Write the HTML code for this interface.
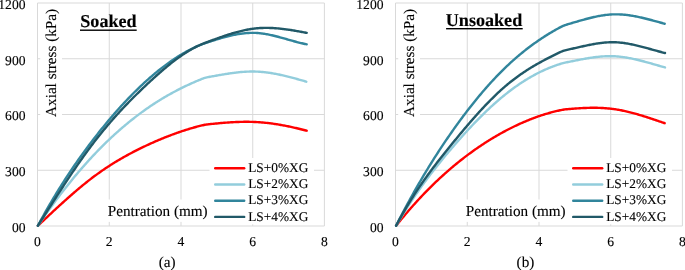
<!DOCTYPE html>
<html><head><meta charset="utf-8"><style>
html,body{margin:0;padding:0;background:#fff;}
body{width:685px;height:270px;overflow:hidden;}
svg{display:block;}
text{font-family:"Liberation Serif", serif;fill:#000;stroke:#000;stroke-width:0.12px;text-rendering:geometricPrecision;}
.tk{font-size:13.6px;}
.lg{font-size:13.33px;}
.ti{font-size:15.2px;}
.hd{font-size:18.1px;font-weight:bold;stroke-width:0.15px;}
</style></head><body>
<svg width="685" height="270" viewBox="0 0 685 270" style="will-change:transform">
<line x1="37.5" y1="3.0" x2="324.4" y2="3.0" stroke="#D9D9D9" stroke-width="1"/>
<line x1="37.5" y1="58.75" x2="324.4" y2="58.75" stroke="#D9D9D9" stroke-width="1"/>
<line x1="37.5" y1="114.5" x2="324.4" y2="114.5" stroke="#D9D9D9" stroke-width="1"/>
<line x1="37.5" y1="170.25" x2="324.4" y2="170.25" stroke="#D9D9D9" stroke-width="1"/>
<line x1="37.5" y1="226.0" x2="324.4" y2="226.0" stroke="#D9D9D9" stroke-width="1"/>
<line x1="37.5" y1="3.0" x2="37.5" y2="226.0" stroke="#D9D9D9" stroke-width="1"/>
<line x1="109.25" y1="3.0" x2="109.25" y2="226.0" stroke="#D9D9D9" stroke-width="1"/>
<line x1="181.0" y1="3.0" x2="181.0" y2="226.0" stroke="#D9D9D9" stroke-width="1"/>
<line x1="252.75" y1="3.0" x2="252.75" y2="226.0" stroke="#D9D9D9" stroke-width="1"/>
<line x1="324.4" y1="3.0" x2="324.4" y2="226.0" stroke="#D9D9D9" stroke-width="1"/>
<text x="25.5" y="8.8" text-anchor="end" class="tk">1200</text>
<text x="25.5" y="64.55" text-anchor="end" class="tk">900</text>
<text x="25.5" y="120.3" text-anchor="end" class="tk">600</text>
<text x="25.5" y="176.05" text-anchor="end" class="tk">300</text>
<text x="25.5" y="231.8" text-anchor="end" class="tk">00</text>
<text x="37.5" y="246.4" text-anchor="middle" class="tk">0</text>
<text x="109.25" y="246.4" text-anchor="middle" class="tk">2</text>
<text x="181.0" y="246.4" text-anchor="middle" class="tk">4</text>
<text x="252.75" y="246.4" text-anchor="middle" class="tk">6</text>
<text x="324.4" y="246.4" text-anchor="middle" class="tk">8</text>
<path d="M37.90,225.70 L38.90,224.76 L39.90,223.82 L40.90,222.88 L41.90,221.95 L42.90,221.01 L43.90,220.07 L44.90,219.13 L45.90,218.19 L46.90,217.26 L47.90,216.32 L48.90,215.39 L49.90,214.45 L50.90,213.52 L51.90,212.59 L52.90,211.66 L53.90,210.74 L54.90,209.81 L55.90,208.89 L56.90,207.97 L57.90,207.05 L58.90,206.13 L59.90,205.22 L60.90,204.30 L61.90,203.40 L62.90,202.49 L63.90,201.59 L64.90,200.69 L65.90,199.79 L66.90,198.90 L67.90,198.01 L68.90,197.12 L69.90,196.24 L70.90,195.36 L71.90,194.49 L72.90,193.62 L73.90,192.75 L74.90,191.89 L75.90,191.04 L76.90,190.19 L77.90,189.34 L78.90,188.50 L79.90,187.66 L80.90,186.83 L81.90,186.01 L82.90,185.19 L83.90,184.37 L84.90,183.56 L85.90,182.76 L86.90,181.97 L87.90,181.18 L88.90,180.39 L89.90,179.61 L90.90,178.84 L91.90,178.08 L92.90,177.32 L93.90,176.57 L94.90,175.83 L95.90,175.10 L96.90,174.37 L97.90,173.64 L98.90,172.93 L99.90,172.22 L100.90,171.52 L101.90,170.82 L102.90,170.13 L103.90,169.45 L104.90,168.78 L105.90,168.11 L106.90,167.44 L107.90,166.79 L108.90,166.14 L109.90,165.49 L110.90,164.85 L111.90,164.22 L112.90,163.59 L113.90,162.97 L114.90,162.35 L115.90,161.74 L116.90,161.14 L117.90,160.54 L118.90,159.95 L119.90,159.36 L120.90,158.77 L121.90,158.20 L122.90,157.62 L123.90,157.06 L124.90,156.50 L125.90,155.94 L126.90,155.39 L127.90,154.84 L128.90,154.30 L129.90,153.76 L130.90,153.22 L131.90,152.70 L132.90,152.17 L133.90,151.65 L134.90,151.14 L135.90,150.63 L136.90,150.12 L137.90,149.62 L138.90,149.12 L139.90,148.62 L140.90,148.13 L141.90,147.65 L142.90,147.17 L143.90,146.69 L144.90,146.21 L145.90,145.74 L146.90,145.27 L147.90,144.81 L148.90,144.35 L149.90,143.89 L150.90,143.44 L151.90,142.99 L152.90,142.54 L153.90,142.10 L154.90,141.66 L155.90,141.22 L156.90,140.79 L157.90,140.36 L158.90,139.94 L159.90,139.52 L160.90,139.10 L161.90,138.68 L162.90,138.27 L163.90,137.87 L164.90,137.46 L165.90,137.07 L166.90,136.67 L167.90,136.28 L168.90,135.89 L169.90,135.51 L170.90,135.13 L171.90,134.75 L172.90,134.38 L173.90,134.01 L174.90,133.65 L175.90,133.29 L176.90,132.93 L177.90,132.58 L178.90,132.24 L179.90,131.89 L180.90,131.55 L181.90,131.22 L182.90,130.89 L183.90,130.56 L184.90,130.24 L185.90,129.92 L186.90,129.61 L187.90,129.30 L188.90,128.99 L189.90,128.69 L190.90,128.39 L191.90,128.10 L192.90,127.81 L193.90,127.53 L194.90,127.25 L195.90,126.98 L196.90,126.71 L197.90,126.45 L198.90,126.19 L199.90,125.94 L200.90,125.68 L201.90,125.44 L202.90,125.21 L203.90,124.99 L204.90,124.79 L205.90,124.61 L206.90,124.47 L207.90,124.34 L208.90,124.23 L209.90,124.12 L210.90,124.02 L211.90,123.92 L212.90,123.82 L213.90,123.72 L214.90,123.62 L215.90,123.52 L216.90,123.43 L217.90,123.34 L218.90,123.24 L219.90,123.15 L220.90,123.07 L221.90,122.98 L222.90,122.90 L223.90,122.81 L224.90,122.73 L225.90,122.66 L226.90,122.58 L227.90,122.51 L228.90,122.44 L229.90,122.38 L230.90,122.31 L231.90,122.25 L232.90,122.20 L233.90,122.14 L234.90,122.09 L235.90,122.05 L236.90,122.00 L237.90,121.97 L238.90,121.93 L239.90,121.90 L240.90,121.87 L241.90,121.85 L242.90,121.83 L243.90,121.82 L244.90,121.81 L245.90,121.80 L246.90,121.80 L247.90,121.81 L248.90,121.82 L249.90,121.83 L250.90,121.85 L251.90,121.88 L252.90,121.91 L253.90,121.94 L254.90,121.98 L255.90,122.03 L256.90,122.08 L257.90,122.14 L258.90,122.21 L259.90,122.28 L260.90,122.35 L261.90,122.44 L262.90,122.52 L263.90,122.61 L264.90,122.71 L265.90,122.82 L266.90,122.92 L267.90,123.04 L268.90,123.16 L269.90,123.28 L270.90,123.41 L271.90,123.54 L272.90,123.68 L273.90,123.82 L274.90,123.97 L275.90,124.12 L276.90,124.28 L277.90,124.44 L278.90,124.61 L279.90,124.78 L280.90,124.95 L281.90,125.13 L282.90,125.31 L283.90,125.50 L284.90,125.69 L285.90,125.88 L286.90,126.08 L287.90,126.28 L288.90,126.49 L289.90,126.70 L290.90,126.91 L291.90,127.13 L292.90,127.35 L293.90,127.57 L294.90,127.80 L295.90,128.03 L296.90,128.26 L297.90,128.50 L298.90,128.74 L299.90,128.98 L300.90,129.23 L301.90,129.48 L302.90,129.73 L303.90,129.99 L304.90,130.24 L305.90,130.50 L306.70,130.71" fill="none" stroke="#FF0000" stroke-width="2.4" stroke-linejoin="round" stroke-linecap="round"/>
<path d="M37.90,225.70 L38.90,224.23 L39.90,222.77 L40.90,221.32 L41.90,219.87 L42.90,218.43 L43.90,217.00 L44.90,215.58 L45.90,214.16 L46.90,212.76 L47.90,211.36 L48.90,209.96 L49.90,208.58 L50.90,207.20 L51.90,205.83 L52.90,204.46 L53.90,203.10 L54.90,201.76 L55.90,200.41 L56.90,199.08 L57.90,197.75 L58.90,196.43 L59.90,195.12 L60.90,193.82 L61.90,192.52 L62.90,191.23 L63.90,189.95 L64.90,188.67 L65.90,187.40 L66.90,186.14 L67.90,184.89 L68.90,183.64 L69.90,182.40 L70.90,181.17 L71.90,179.95 L72.90,178.73 L73.90,177.52 L74.90,176.32 L75.90,175.13 L76.90,173.94 L77.90,172.76 L78.90,171.59 L79.90,170.42 L80.90,169.27 L81.90,168.12 L82.90,166.97 L83.90,165.84 L84.90,164.71 L85.90,163.59 L86.90,162.47 L87.90,161.37 L88.90,160.27 L89.90,159.18 L90.90,158.09 L91.90,157.01 L92.90,155.94 L93.90,154.88 L94.90,153.83 L95.90,152.78 L96.90,151.74 L97.90,150.70 L98.90,149.68 L99.90,148.66 L100.90,147.65 L101.90,146.64 L102.90,145.64 L103.90,144.65 L104.90,143.67 L105.90,142.69 L106.90,141.73 L107.90,140.76 L108.90,139.81 L109.90,138.86 L110.90,137.92 L111.90,136.99 L112.90,136.06 L113.90,135.14 L114.90,134.23 L115.90,133.32 L116.90,132.42 L117.90,131.53 L118.90,130.64 L119.90,129.76 L120.90,128.89 L121.90,128.03 L122.90,127.17 L123.90,126.32 L124.90,125.47 L125.90,124.64 L126.90,123.81 L127.90,122.98 L128.90,122.17 L129.90,121.35 L130.90,120.55 L131.90,119.75 L132.90,118.96 L133.90,118.18 L134.90,117.40 L135.90,116.63 L136.90,115.87 L137.90,115.11 L138.90,114.36 L139.90,113.61 L140.90,112.88 L141.90,112.14 L142.90,111.42 L143.90,110.70 L144.90,109.99 L145.90,109.28 L146.90,108.58 L147.90,107.89 L148.90,107.21 L149.90,106.53 L150.90,105.85 L151.90,105.18 L152.90,104.52 L153.90,103.87 L154.90,103.22 L155.90,102.58 L156.90,101.94 L157.90,101.31 L158.90,100.69 L159.90,100.07 L160.90,99.46 L161.90,98.85 L162.90,98.25 L163.90,97.65 L164.90,97.06 L165.90,96.48 L166.90,95.90 L167.90,95.33 L168.90,94.76 L169.90,94.20 L170.90,93.65 L171.90,93.10 L172.90,92.55 L173.90,92.02 L174.90,91.48 L175.90,90.95 L176.90,90.43 L177.90,89.91 L178.90,89.40 L179.90,88.89 L180.90,88.39 L181.90,87.89 L182.90,87.40 L183.90,86.91 L184.90,86.43 L185.90,85.95 L186.90,85.48 L187.90,85.02 L188.90,84.55 L189.90,84.09 L190.90,83.64 L191.90,83.19 L192.90,82.75 L193.90,82.31 L194.90,81.88 L195.90,81.45 L196.90,81.02 L197.90,80.61 L198.90,80.19 L199.90,79.78 L200.90,79.37 L201.90,78.97 L202.90,78.59 L203.90,78.22 L204.90,77.89 L205.90,77.61 L206.90,77.36 L207.90,77.15 L208.90,76.95 L209.90,76.77 L210.90,76.59 L211.90,76.42 L212.90,76.24 L213.90,76.06 L214.90,75.88 L215.90,75.70 L216.90,75.53 L217.90,75.35 L218.90,75.18 L219.90,75.00 L220.90,74.83 L221.90,74.66 L222.90,74.49 L223.90,74.33 L224.90,74.16 L225.90,74.00 L226.90,73.84 L227.90,73.69 L228.90,73.54 L229.90,73.39 L230.90,73.25 L231.90,73.11 L232.90,72.97 L233.90,72.84 L234.90,72.71 L235.90,72.59 L236.90,72.48 L237.90,72.37 L238.90,72.26 L239.90,72.16 L240.90,72.07 L241.90,71.99 L242.90,71.91 L243.90,71.83 L244.90,71.77 L245.90,71.71 L246.90,71.66 L247.90,71.62 L248.90,71.58 L249.90,71.55 L250.90,71.54 L251.90,71.53 L252.90,71.52 L253.90,71.53 L254.90,71.55 L255.90,71.58 L256.90,71.62 L257.90,71.66 L258.90,71.72 L259.90,71.78 L260.90,71.86 L261.90,71.94 L262.90,72.03 L263.90,72.13 L264.90,72.24 L265.90,72.36 L266.90,72.48 L267.90,72.62 L268.90,72.76 L269.90,72.91 L270.90,73.06 L271.90,73.22 L272.90,73.39 L273.90,73.57 L274.90,73.75 L275.90,73.94 L276.90,74.13 L277.90,74.33 L278.90,74.53 L279.90,74.75 L280.90,74.96 L281.90,75.18 L282.90,75.41 L283.90,75.64 L284.90,75.88 L285.90,76.12 L286.90,76.36 L287.90,76.61 L288.90,76.86 L289.90,77.11 L290.90,77.37 L291.90,77.64 L292.90,77.90 L293.90,78.17 L294.90,78.44 L295.90,78.71 L296.90,78.99 L297.90,79.26 L298.90,79.54 L299.90,79.82 L300.90,80.11 L301.90,80.39 L302.90,80.68 L303.90,80.96 L304.90,81.25 L305.90,81.54 L306.30,81.65" fill="none" stroke="#92CDDC" stroke-width="2.4" stroke-linejoin="round" stroke-linecap="round"/>
<path d="M37.90,225.70 L38.90,223.84 L39.90,221.99 L40.90,220.15 L41.90,218.33 L42.90,216.52 L43.90,214.72 L44.90,212.94 L45.90,211.17 L46.90,209.41 L47.90,207.66 L48.90,205.93 L49.90,204.21 L50.90,202.50 L51.90,200.80 L52.90,199.11 L53.90,197.44 L54.90,195.77 L55.90,194.12 L56.90,192.48 L57.90,190.85 L58.90,189.24 L59.90,187.63 L60.90,186.04 L61.90,184.45 L62.90,182.88 L63.90,181.31 L64.90,179.76 L65.90,178.22 L66.90,176.69 L67.90,175.16 L68.90,173.65 L69.90,172.15 L70.90,170.66 L71.90,169.17 L72.90,167.70 L73.90,166.24 L74.90,164.78 L75.90,163.34 L76.90,161.90 L77.90,160.47 L78.90,159.05 L79.90,157.64 L80.90,156.24 L81.90,154.85 L82.90,153.47 L83.90,152.09 L84.90,150.72 L85.90,149.36 L86.90,148.01 L87.90,146.67 L88.90,145.33 L89.90,144.00 L90.90,142.68 L91.90,141.37 L92.90,140.06 L93.90,138.76 L94.90,137.47 L95.90,136.18 L96.90,134.90 L97.90,133.63 L98.90,132.37 L99.90,131.11 L100.90,129.86 L101.90,128.62 L102.90,127.39 L103.90,126.16 L104.90,124.94 L105.90,123.72 L106.90,122.52 L107.90,121.32 L108.90,120.13 L109.90,118.94 L110.90,117.77 L111.90,116.60 L112.90,115.44 L113.90,114.28 L114.90,113.13 L115.90,111.99 L116.90,110.86 L117.90,109.74 L118.90,108.62 L119.90,107.51 L120.90,106.41 L121.90,105.31 L122.90,104.22 L123.90,103.14 L124.90,102.07 L125.90,101.01 L126.90,99.95 L127.90,98.90 L128.90,97.86 L129.90,96.83 L130.90,95.80 L131.90,94.78 L132.90,93.77 L133.90,92.76 L134.90,91.77 L135.90,90.78 L136.90,89.80 L137.90,88.83 L138.90,87.86 L139.90,86.91 L140.90,85.96 L141.90,85.02 L142.90,84.08 L143.90,83.16 L144.90,82.24 L145.90,81.33 L146.90,80.43 L147.90,79.53 L148.90,78.65 L149.90,77.77 L150.90,76.90 L151.90,76.04 L152.90,75.18 L153.90,74.34 L154.90,73.50 L155.90,72.67 L156.90,71.85 L157.90,71.04 L158.90,70.23 L159.90,69.44 L160.90,68.65 L161.90,67.87 L162.90,67.10 L163.90,66.34 L164.90,65.59 L165.90,64.84 L166.90,64.11 L167.90,63.38 L168.90,62.67 L169.90,61.96 L170.90,61.26 L171.90,60.57 L172.90,59.89 L173.90,59.22 L174.90,58.55 L175.90,57.90 L176.90,57.26 L177.90,56.62 L178.90,56.00 L179.90,55.38 L180.90,54.77 L181.90,54.18 L182.90,53.59 L183.90,53.01 L184.90,52.45 L185.90,51.89 L186.90,51.34 L187.90,50.80 L188.90,50.27 L189.90,49.76 L190.90,49.25 L191.90,48.75 L192.90,48.26 L193.90,47.79 L194.90,47.32 L195.90,46.86 L196.90,46.41 L197.90,46.00 L198.90,45.57 L199.90,45.16 L200.90,44.75 L201.90,44.36 L202.90,43.98 L203.90,43.61 L204.90,43.25 L205.90,42.90 L206.90,42.57 L207.90,42.24 L208.90,41.92 L209.90,41.60 L210.90,41.28 L211.90,40.97 L212.90,40.65 L213.90,40.33 L214.90,40.02 L215.90,39.72 L216.90,39.41 L217.90,39.11 L218.90,38.81 L219.90,38.51 L220.90,38.22 L221.90,37.94 L222.90,37.65 L223.90,37.38 L224.90,37.10 L225.90,36.84 L226.90,36.58 L227.90,36.32 L228.90,36.08 L229.90,35.83 L230.90,35.60 L231.90,35.37 L232.90,35.15 L233.90,34.94 L234.90,34.74 L235.90,34.55 L236.90,34.36 L237.90,34.18 L238.90,34.02 L239.90,33.86 L240.90,33.71 L241.90,33.58 L242.90,33.45 L243.90,33.34 L244.90,33.23 L245.90,33.14 L246.90,33.06 L247.90,32.99 L248.90,32.94 L249.90,32.89 L250.90,32.86 L251.90,32.85 L252.90,32.84 L253.90,32.86 L254.90,32.88 L255.90,32.92 L256.90,32.98 L257.90,33.05 L258.90,33.13 L259.90,33.23 L260.90,33.34 L261.90,33.46 L262.90,33.59 L263.90,33.74 L264.90,33.90 L265.90,34.07 L266.90,34.25 L267.90,34.43 L268.90,34.63 L269.90,34.84 L270.90,35.05 L271.90,35.28 L272.90,35.51 L273.90,35.75 L274.90,35.99 L275.90,36.24 L276.90,36.50 L277.90,36.76 L278.90,37.02 L279.90,37.29 L280.90,37.56 L281.90,37.84 L282.90,38.12 L283.90,38.40 L284.90,38.68 L285.90,38.97 L286.90,39.25 L287.90,39.54 L288.90,39.82 L289.90,40.11 L290.90,40.39 L291.90,40.67 L292.90,40.95 L293.90,41.23 L294.90,41.50 L295.90,41.77 L296.90,42.04 L297.90,42.30 L298.90,42.56 L299.90,42.81 L300.90,43.05 L301.90,43.29 L302.90,43.53 L303.90,43.75 L304.90,43.97 L305.90,44.18 L306.70,44.34" fill="none" stroke="#31859C" stroke-width="2.4" stroke-linejoin="round" stroke-linecap="round"/>
<path d="M37.90,225.70 L38.90,224.13 L39.90,222.56 L40.90,220.98 L41.90,219.41 L42.90,217.84 L43.90,216.27 L44.90,214.69 L45.90,213.12 L46.90,211.55 L47.90,209.98 L48.90,208.42 L49.90,206.85 L50.90,205.29 L51.90,203.73 L52.90,202.17 L53.90,200.61 L54.90,199.05 L55.90,197.50 L56.90,195.95 L57.90,194.40 L58.90,192.86 L59.90,191.32 L60.90,189.78 L61.90,188.25 L62.90,186.72 L63.90,185.20 L64.90,183.68 L65.90,182.16 L66.90,180.65 L67.90,179.15 L68.90,177.65 L69.90,176.15 L70.90,174.66 L71.90,173.18 L72.90,171.70 L73.90,170.23 L74.90,168.77 L75.90,167.31 L76.90,165.86 L77.90,164.41 L78.90,162.97 L79.90,161.54 L80.90,160.12 L81.90,158.70 L82.90,157.29 L83.90,155.90 L84.90,154.50 L85.90,153.12 L86.90,151.75 L87.90,150.38 L88.90,149.02 L89.90,147.68 L90.90,146.34 L91.90,145.01 L92.90,143.69 L93.90,142.38 L94.90,141.08 L95.90,139.80 L96.90,138.52 L97.90,137.25 L98.90,135.99 L99.90,134.74 L100.90,133.49 L101.90,132.26 L102.90,131.04 L103.90,129.82 L104.90,128.62 L105.90,127.42 L106.90,126.23 L107.90,125.05 L108.90,123.88 L109.90,122.72 L110.90,121.56 L111.90,120.42 L112.90,119.28 L113.90,118.15 L114.90,117.02 L115.90,115.91 L116.90,114.80 L117.90,113.69 L118.90,112.60 L119.90,111.51 L120.90,110.43 L121.90,109.36 L122.90,108.29 L123.90,107.23 L124.90,106.18 L125.90,105.13 L126.90,104.09 L127.90,103.06 L128.90,102.03 L129.90,101.01 L130.90,99.99 L131.90,98.98 L132.90,97.97 L133.90,96.97 L134.90,95.98 L135.90,94.99 L136.90,94.00 L137.90,93.03 L138.90,92.05 L139.90,91.08 L140.90,90.12 L141.90,89.16 L142.90,88.20 L143.90,87.25 L144.90,86.30 L145.90,85.36 L146.90,84.42 L147.90,83.49 L148.90,82.56 L149.90,81.63 L150.90,80.71 L151.90,79.79 L152.90,78.87 L153.90,77.96 L154.90,77.06 L155.90,76.16 L156.90,75.26 L157.90,74.37 L158.90,73.49 L159.90,72.61 L160.90,71.74 L161.90,70.88 L162.90,70.02 L163.90,69.17 L164.90,68.33 L165.90,67.49 L166.90,66.66 L167.90,65.84 L168.90,65.03 L169.90,64.22 L170.90,63.42 L171.90,62.64 L172.90,61.86 L173.90,61.09 L174.90,60.33 L175.90,59.58 L176.90,58.84 L177.90,58.11 L178.90,57.38 L179.90,56.67 L180.90,55.97 L181.90,55.28 L182.90,54.61 L183.90,53.94 L184.90,53.29 L185.90,52.64 L186.90,52.01 L187.90,51.39 L188.90,50.79 L189.90,50.19 L190.90,49.61 L191.90,49.04 L192.90,48.49 L193.90,47.95 L194.90,47.42 L195.90,46.90 L196.90,46.41 L197.90,45.95 L198.90,45.48 L199.90,45.02 L200.90,44.58 L201.90,44.16 L202.90,43.75 L203.90,43.35 L204.90,42.96 L205.90,42.58 L206.90,42.21 L207.90,41.84 L208.90,41.47 L209.90,41.10 L210.90,40.73 L211.90,40.36 L212.90,40.00 L213.90,39.63 L214.90,39.26 L215.90,38.90 L216.90,38.54 L217.90,38.18 L218.90,37.82 L219.90,37.47 L220.90,37.12 L221.90,36.77 L222.90,36.43 L223.90,36.09 L224.90,35.75 L225.90,35.42 L226.90,35.09 L227.90,34.76 L228.90,34.44 L229.90,34.13 L230.90,33.82 L231.90,33.51 L232.90,33.22 L233.90,32.92 L234.90,32.64 L235.90,32.35 L236.90,32.08 L237.90,31.81 L238.90,31.55 L239.90,31.30 L240.90,31.05 L241.90,30.81 L242.90,30.58 L243.90,30.36 L244.90,30.14 L245.90,29.94 L246.90,29.74 L247.90,29.55 L248.90,29.37 L249.90,29.20 L250.90,29.04 L251.90,28.89 L252.90,28.75 L253.90,28.62 L254.90,28.50 L255.90,28.39 L256.90,28.29 L257.90,28.21 L258.90,28.13 L259.90,28.06 L260.90,28.01 L261.90,27.96 L262.90,27.93 L263.90,27.90 L264.90,27.88 L265.90,27.87 L266.90,27.87 L267.90,27.88 L268.90,27.90 L269.90,27.93 L270.90,27.96 L271.90,28.01 L272.90,28.06 L273.90,28.12 L274.90,28.18 L275.90,28.25 L276.90,28.33 L277.90,28.42 L278.90,28.51 L279.90,28.61 L280.90,28.72 L281.90,28.83 L282.90,28.94 L283.90,29.07 L284.90,29.20 L285.90,29.33 L286.90,29.47 L287.90,29.61 L288.90,29.76 L289.90,29.91 L290.90,30.06 L291.90,30.22 L292.90,30.38 L293.90,30.55 L294.90,30.72 L295.90,30.89 L296.90,31.07 L297.90,31.25 L298.90,31.43 L299.90,31.61 L300.90,31.80 L301.90,31.98 L302.90,32.17 L303.90,32.36 L304.90,32.55 L305.90,32.75 L306.70,32.90" fill="none" stroke="#215968" stroke-width="2.4" stroke-linejoin="round" stroke-linecap="round"/>
<rect x="40.2" y="6" width="21.8" height="114" fill="#fff"/>
<text transform="translate(56.2,116.9) rotate(-90)" class="ti">Axial stress (kPa)</text>
<rect x="106" y="199.5" width="103" height="22.4" fill="#fff"/>
<text x="107.7" y="215.6" class="ti">Pentration (mm)</text>
<rect x="209.5" y="158" width="104.5" height="66.3" fill="#fff"/>
<line x1="215.2" y1="168.3" x2="244.2" y2="168.3" stroke="#FF0000" stroke-width="2.4" stroke-linecap="round"/>
<text x="248.2" y="171.9" class="lg">LS+0%XG</text>
<line x1="215.2" y1="184.5" x2="244.2" y2="184.5" stroke="#92CDDC" stroke-width="2.4" stroke-linecap="round"/>
<text x="248.2" y="188.1" class="lg">LS+2%XG</text>
<line x1="215.2" y1="200.70000000000002" x2="244.2" y2="200.70000000000002" stroke="#31859C" stroke-width="2.4" stroke-linecap="round"/>
<text x="248.2" y="204.3" class="lg">LS+3%XG</text>
<line x1="215.2" y1="216.9" x2="244.2" y2="216.9" stroke="#215968" stroke-width="2.4" stroke-linecap="round"/>
<text x="248.2" y="220.5" class="lg">LS+4%XG</text>
<text x="80.3" y="26.8" class="hd">Soaked</text>
<rect x="80" y="29.5" width="56.69999999999999" height="1.4" fill="#000"/>
<text x="158.8" y="266.6" class="ti">(a)</text>
<line x1="395.5" y1="3.0" x2="682.4" y2="3.0" stroke="#D9D9D9" stroke-width="1"/>
<line x1="395.5" y1="58.75" x2="682.4" y2="58.75" stroke="#D9D9D9" stroke-width="1"/>
<line x1="395.5" y1="114.5" x2="682.4" y2="114.5" stroke="#D9D9D9" stroke-width="1"/>
<line x1="395.5" y1="170.25" x2="682.4" y2="170.25" stroke="#D9D9D9" stroke-width="1"/>
<line x1="395.5" y1="226.0" x2="682.4" y2="226.0" stroke="#D9D9D9" stroke-width="1"/>
<line x1="395.5" y1="3.0" x2="395.5" y2="226.0" stroke="#D9D9D9" stroke-width="1"/>
<line x1="467.25" y1="3.0" x2="467.25" y2="226.0" stroke="#D9D9D9" stroke-width="1"/>
<line x1="539.0" y1="3.0" x2="539.0" y2="226.0" stroke="#D9D9D9" stroke-width="1"/>
<line x1="610.75" y1="3.0" x2="610.75" y2="226.0" stroke="#D9D9D9" stroke-width="1"/>
<line x1="682.4" y1="3.0" x2="682.4" y2="226.0" stroke="#D9D9D9" stroke-width="1"/>
<text x="383.5" y="8.8" text-anchor="end" class="tk">1200</text>
<text x="383.5" y="64.55" text-anchor="end" class="tk">900</text>
<text x="383.5" y="120.3" text-anchor="end" class="tk">600</text>
<text x="383.5" y="176.05" text-anchor="end" class="tk">300</text>
<text x="383.5" y="231.8" text-anchor="end" class="tk">00</text>
<text x="395.5" y="246.4" text-anchor="middle" class="tk">0</text>
<text x="467.25" y="246.4" text-anchor="middle" class="tk">2</text>
<text x="539.0" y="246.4" text-anchor="middle" class="tk">4</text>
<text x="610.75" y="246.4" text-anchor="middle" class="tk">6</text>
<text x="682.4" y="246.4" text-anchor="middle" class="tk">8</text>
<path d="M396.10,225.70 L397.10,224.45 L398.10,223.21 L399.10,221.98 L400.10,220.76 L401.10,219.54 L402.10,218.33 L403.10,217.13 L404.10,215.94 L405.10,214.75 L406.10,213.58 L407.10,212.41 L408.10,211.25 L409.10,210.09 L410.10,208.95 L411.10,207.81 L412.10,206.68 L413.10,205.55 L414.10,204.44 L415.10,203.33 L416.10,202.23 L417.10,201.14 L418.10,200.05 L419.10,198.97 L420.10,197.90 L421.10,196.84 L422.10,195.78 L423.10,194.73 L424.10,193.69 L425.10,192.65 L426.10,191.63 L427.10,190.61 L428.10,189.59 L429.10,188.59 L430.10,187.59 L431.10,186.60 L432.10,185.61 L433.10,184.63 L434.10,183.66 L435.10,182.70 L436.10,181.74 L437.10,180.79 L438.10,179.85 L439.10,178.91 L440.10,177.99 L441.10,177.06 L442.10,176.15 L443.10,175.24 L444.10,174.34 L445.10,173.44 L446.10,172.55 L447.10,171.67 L448.10,170.79 L449.10,169.92 L450.10,169.06 L451.10,168.21 L452.10,167.36 L453.10,166.51 L454.10,165.68 L455.10,164.85 L456.10,164.02 L457.10,163.21 L458.10,162.40 L459.10,161.59 L460.10,160.79 L461.10,160.00 L462.10,159.22 L463.10,158.44 L464.10,157.66 L465.10,156.90 L466.10,156.14 L467.10,155.38 L468.10,154.63 L469.10,153.89 L470.10,153.16 L471.10,152.43 L472.10,151.70 L473.10,150.98 L474.10,150.27 L475.10,149.57 L476.10,148.87 L477.10,148.17 L478.10,147.49 L479.10,146.80 L480.10,146.13 L481.10,145.46 L482.10,144.79 L483.10,144.13 L484.10,143.48 L485.10,142.84 L486.10,142.19 L487.10,141.56 L488.10,140.93 L489.10,140.31 L490.10,139.69 L491.10,139.08 L492.10,138.47 L493.10,137.87 L494.10,137.27 L495.10,136.68 L496.10,136.10 L497.10,135.52 L498.10,134.95 L499.10,134.38 L500.10,133.82 L501.10,133.26 L502.10,132.71 L503.10,132.16 L504.10,131.62 L505.10,131.09 L506.10,130.56 L507.10,130.03 L508.10,129.51 L509.10,129.00 L510.10,128.49 L511.10,127.99 L512.10,127.49 L513.10,127.00 L514.10,126.51 L515.10,126.03 L516.10,125.55 L517.10,125.08 L518.10,124.62 L519.10,124.16 L520.10,123.70 L521.10,123.25 L522.10,122.81 L523.10,122.37 L524.10,121.94 L525.10,121.52 L526.10,121.10 L527.10,120.68 L528.10,120.27 L529.10,119.87 L530.10,119.47 L531.10,119.08 L532.10,118.69 L533.10,118.31 L534.10,117.93 L535.10,117.56 L536.10,117.20 L537.10,116.84 L538.10,116.49 L539.10,116.15 L540.10,115.81 L541.10,115.47 L542.10,115.14 L543.10,114.82 L544.10,114.50 L545.10,114.19 L546.10,113.89 L547.10,113.59 L548.10,113.29 L549.10,113.01 L550.10,112.73 L551.10,112.45 L552.10,112.18 L553.10,111.92 L554.10,111.66 L555.10,111.41 L556.10,111.18 L557.10,110.94 L558.10,110.71 L559.10,110.48 L560.10,110.26 L561.10,110.06 L562.10,109.87 L563.10,109.69 L564.10,109.54 L565.10,109.42 L566.10,109.31 L567.10,109.21 L568.10,109.12 L569.10,109.03 L570.10,108.94 L571.10,108.86 L572.10,108.77 L573.10,108.69 L574.10,108.62 L575.10,108.54 L576.10,108.47 L577.10,108.40 L578.10,108.33 L579.10,108.27 L580.10,108.21 L581.10,108.15 L582.10,108.10 L583.10,108.05 L584.10,108.00 L585.10,107.96 L586.10,107.93 L587.10,107.89 L588.10,107.86 L589.10,107.84 L590.10,107.82 L591.10,107.80 L592.10,107.79 L593.10,107.79 L594.10,107.79 L595.10,107.80 L596.10,107.81 L597.10,107.82 L598.10,107.85 L599.10,107.88 L600.10,107.91 L601.10,107.95 L602.10,108.00 L603.10,108.05 L604.10,108.11 L605.10,108.18 L606.10,108.26 L607.10,108.34 L608.10,108.43 L609.10,108.52 L610.10,108.63 L611.10,108.74 L612.10,108.86 L613.10,108.99 L614.10,109.12 L615.10,109.27 L616.10,109.42 L617.10,109.58 L618.10,109.75 L619.10,109.93 L620.10,110.11 L621.10,110.30 L622.10,110.50 L623.10,110.70 L624.10,110.91 L625.10,111.13 L626.10,111.35 L627.10,111.59 L628.10,111.82 L629.10,112.07 L630.10,112.31 L631.10,112.57 L632.10,112.83 L633.10,113.09 L634.10,113.36 L635.10,113.64 L636.10,113.92 L637.10,114.20 L638.10,114.49 L639.10,114.78 L640.10,115.08 L641.10,115.38 L642.10,115.69 L643.10,115.99 L644.10,116.31 L645.10,116.62 L646.10,116.94 L647.10,117.26 L648.10,117.58 L649.10,117.91 L650.10,118.24 L651.10,118.57 L652.10,118.90 L653.10,119.24 L654.10,119.57 L655.10,119.91 L656.10,120.25 L657.10,120.59 L658.10,120.93 L659.10,121.28 L660.10,121.62 L661.10,121.96 L662.10,122.31 L663.10,122.65 L664.10,123.00 L664.70,123.21" fill="none" stroke="#FF0000" stroke-width="2.4" stroke-linejoin="round" stroke-linecap="round"/>
<path d="M396.10,225.70 L397.10,224.00 L398.10,222.30 L399.10,220.63 L400.10,218.97 L401.10,217.32 L402.10,215.69 L403.10,214.07 L404.10,212.46 L405.10,210.87 L406.10,209.29 L407.10,207.72 L408.10,206.17 L409.10,204.63 L410.10,203.10 L411.10,201.58 L412.10,200.08 L413.10,198.59 L414.10,197.11 L415.10,195.64 L416.10,194.18 L417.10,192.73 L418.10,191.30 L419.10,189.87 L420.10,188.46 L421.10,187.06 L422.10,185.66 L423.10,184.28 L424.10,182.91 L425.10,181.54 L426.10,180.19 L427.10,178.85 L428.10,177.51 L429.10,176.18 L430.10,174.87 L431.10,173.56 L432.10,172.26 L433.10,170.97 L434.10,169.68 L435.10,168.41 L436.10,167.14 L437.10,165.88 L438.10,164.63 L439.10,163.38 L440.10,162.14 L441.10,160.91 L442.10,159.68 L443.10,158.47 L444.10,157.25 L445.10,156.05 L446.10,154.85 L447.10,153.65 L448.10,152.46 L449.10,151.28 L450.10,150.10 L451.10,148.93 L452.10,147.76 L453.10,146.60 L454.10,145.44 L455.10,144.28 L456.10,143.13 L457.10,141.99 L458.10,140.85 L459.10,139.72 L460.10,138.59 L461.10,137.47 L462.10,136.35 L463.10,135.24 L464.10,134.14 L465.10,133.04 L466.10,131.94 L467.10,130.86 L468.10,129.78 L469.10,128.70 L470.10,127.63 L471.10,126.57 L472.10,125.51 L473.10,124.46 L474.10,123.42 L475.10,122.38 L476.10,121.35 L477.10,120.32 L478.10,119.31 L479.10,118.29 L480.10,117.29 L481.10,116.29 L482.10,115.30 L483.10,114.32 L484.10,113.35 L485.10,112.38 L486.10,111.42 L487.10,110.46 L488.10,109.52 L489.10,108.58 L490.10,107.65 L491.10,106.72 L492.10,105.81 L493.10,104.90 L494.10,104.00 L495.10,103.11 L496.10,102.23 L497.10,101.35 L498.10,100.49 L499.10,99.63 L500.10,98.78 L501.10,97.94 L502.10,97.10 L503.10,96.28 L504.10,95.46 L505.10,94.65 L506.10,93.86 L507.10,93.07 L508.10,92.29 L509.10,91.52 L510.10,90.75 L511.10,90.00 L512.10,89.26 L513.10,88.52 L514.10,87.79 L515.10,87.08 L516.10,86.37 L517.10,85.67 L518.10,84.98 L519.10,84.29 L520.10,83.62 L521.10,82.96 L522.10,82.30 L523.10,81.66 L524.10,81.02 L525.10,80.39 L526.10,79.77 L527.10,79.16 L528.10,78.56 L529.10,77.97 L530.10,77.38 L531.10,76.81 L532.10,76.24 L533.10,75.68 L534.10,75.13 L535.10,74.59 L536.10,74.06 L537.10,73.54 L538.10,73.03 L539.10,72.52 L540.10,72.03 L541.10,71.54 L542.10,71.06 L543.10,70.60 L544.10,70.14 L545.10,69.68 L546.10,69.24 L547.10,68.81 L548.10,68.38 L549.10,67.97 L550.10,67.56 L551.10,67.16 L552.10,66.77 L553.10,66.39 L554.10,66.02 L555.10,65.65 L556.10,65.32 L557.10,64.97 L558.10,64.63 L559.10,64.31 L560.10,63.99 L561.10,63.68 L562.10,63.39 L563.10,63.12 L564.10,62.87 L565.10,62.65 L566.10,62.43 L567.10,62.22 L568.10,62.02 L569.10,61.82 L570.10,61.62 L571.10,61.42 L572.10,61.21 L573.10,61.01 L574.10,60.81 L575.10,60.61 L576.10,60.41 L577.10,60.21 L578.10,60.02 L579.10,59.82 L580.10,59.63 L581.10,59.44 L582.10,59.25 L583.10,59.07 L584.10,58.89 L585.10,58.71 L586.10,58.54 L587.10,58.37 L588.10,58.20 L589.10,58.04 L590.10,57.88 L591.10,57.73 L592.10,57.59 L593.10,57.45 L594.10,57.31 L595.10,57.19 L596.10,57.06 L597.10,56.95 L598.10,56.84 L599.10,56.74 L600.10,56.65 L601.10,56.56 L602.10,56.48 L603.10,56.41 L604.10,56.35 L605.10,56.30 L606.10,56.25 L607.10,56.22 L608.10,56.20 L609.10,56.18 L610.10,56.18 L611.10,56.18 L612.10,56.20 L613.10,56.22 L614.10,56.26 L615.10,56.31 L616.10,56.37 L617.10,56.44 L618.10,56.53 L619.10,56.62 L620.10,56.72 L621.10,56.83 L622.10,56.96 L623.10,57.09 L624.10,57.23 L625.10,57.38 L626.10,57.53 L627.10,57.70 L628.10,57.87 L629.10,58.06 L630.10,58.25 L631.10,58.44 L632.10,58.65 L633.10,58.86 L634.10,59.07 L635.10,59.29 L636.10,59.52 L637.10,59.76 L638.10,60.00 L639.10,60.24 L640.10,60.49 L641.10,60.74 L642.10,61.00 L643.10,61.26 L644.10,61.53 L645.10,61.80 L646.10,62.07 L647.10,62.34 L648.10,62.62 L649.10,62.90 L650.10,63.18 L651.10,63.47 L652.10,63.75 L653.10,64.04 L654.10,64.33 L655.10,64.62 L656.10,64.91 L657.10,65.19 L658.10,65.48 L659.10,65.77 L660.10,66.06 L661.10,66.35 L662.10,66.63 L663.10,66.92 L664.10,67.20 L665.00,67.46" fill="none" stroke="#92CDDC" stroke-width="2.4" stroke-linejoin="round" stroke-linecap="round"/>
<path d="M396.10,225.70 L397.10,223.73 L398.10,221.77 L399.10,219.82 L400.10,217.88 L401.10,215.96 L402.10,214.04 L403.10,212.14 L404.10,210.25 L405.10,208.37 L406.10,206.50 L407.10,204.65 L408.10,202.80 L409.10,200.97 L410.10,199.14 L411.10,197.33 L412.10,195.53 L413.10,193.74 L414.10,191.96 L415.10,190.19 L416.10,188.43 L417.10,186.68 L418.10,184.94 L419.10,183.21 L420.10,181.50 L421.10,179.79 L422.10,178.09 L423.10,176.40 L424.10,174.72 L425.10,173.06 L426.10,171.40 L427.10,169.75 L428.10,168.11 L429.10,166.48 L430.10,164.86 L431.10,163.26 L432.10,161.65 L433.10,160.06 L434.10,158.48 L435.10,156.91 L436.10,155.35 L437.10,153.79 L438.10,152.25 L439.10,150.71 L440.10,149.18 L441.10,147.66 L442.10,146.15 L443.10,144.65 L444.10,143.16 L445.10,141.67 L446.10,140.20 L447.10,138.73 L448.10,137.27 L449.10,135.82 L450.10,134.37 L451.10,132.94 L452.10,131.51 L453.10,130.09 L454.10,128.68 L455.10,127.28 L456.10,125.88 L457.10,124.49 L458.10,123.11 L459.10,121.74 L460.10,120.38 L461.10,119.03 L462.10,117.68 L463.10,116.34 L464.10,115.01 L465.10,113.69 L466.10,112.37 L467.10,111.07 L468.10,109.77 L469.10,108.48 L470.10,107.20 L471.10,105.93 L472.10,104.67 L473.10,103.41 L474.10,102.17 L475.10,100.93 L476.10,99.70 L477.10,98.48 L478.10,97.27 L479.10,96.06 L480.10,94.87 L481.10,93.68 L482.10,92.50 L483.10,91.33 L484.10,90.17 L485.10,89.02 L486.10,87.88 L487.10,86.75 L488.10,85.62 L489.10,84.51 L490.10,83.40 L491.10,82.30 L492.10,81.21 L493.10,80.13 L494.10,79.06 L495.10,78.00 L496.10,76.94 L497.10,75.90 L498.10,74.86 L499.10,73.84 L500.10,72.82 L501.10,71.81 L502.10,70.81 L503.10,69.82 L504.10,68.84 L505.10,67.87 L506.10,66.91 L507.10,65.96 L508.10,65.02 L509.10,64.08 L510.10,63.16 L511.10,62.24 L512.10,61.34 L513.10,60.44 L514.10,59.55 L515.10,58.67 L516.10,57.80 L517.10,56.94 L518.10,56.09 L519.10,55.24 L520.10,54.41 L521.10,53.58 L522.10,52.76 L523.10,51.95 L524.10,51.15 L525.10,50.35 L526.10,49.57 L527.10,48.79 L528.10,48.02 L529.10,47.26 L530.10,46.51 L531.10,45.76 L532.10,45.03 L533.10,44.30 L534.10,43.57 L535.10,42.86 L536.10,42.15 L537.10,41.46 L538.10,40.77 L539.10,40.08 L540.10,39.41 L541.10,38.74 L542.10,38.07 L543.10,37.42 L544.10,36.77 L545.10,36.13 L546.10,35.50 L547.10,34.87 L548.10,34.26 L549.10,33.64 L550.10,33.04 L551.10,32.44 L552.10,31.85 L553.10,31.26 L554.10,30.68 L555.10,30.11 L556.10,29.56 L557.10,29.00 L558.10,28.45 L559.10,27.90 L560.10,27.37 L561.10,26.85 L562.10,26.36 L563.10,25.91 L564.10,25.50 L565.10,25.14 L566.10,24.81 L567.10,24.50 L568.10,24.20 L569.10,23.91 L570.10,23.61 L571.10,23.32 L572.10,23.02 L573.10,22.72 L574.10,22.43 L575.10,22.13 L576.10,21.84 L577.10,21.54 L578.10,21.25 L579.10,20.96 L580.10,20.67 L581.10,20.38 L582.10,20.10 L583.10,19.82 L584.10,19.54 L585.10,19.27 L586.10,19.00 L587.10,18.74 L588.10,18.47 L589.10,18.22 L590.10,17.97 L591.10,17.72 L592.10,17.49 L593.10,17.25 L594.10,17.03 L595.10,16.81 L596.10,16.59 L597.10,16.39 L598.10,16.19 L599.10,16.00 L600.10,15.82 L601.10,15.65 L602.10,15.49 L603.10,15.33 L604.10,15.19 L605.10,15.06 L606.10,14.93 L607.10,14.82 L608.10,14.72 L609.10,14.63 L610.10,14.55 L611.10,14.48 L612.10,14.42 L613.10,14.38 L614.10,14.35 L615.10,14.33 L616.10,14.33 L617.10,14.33 L618.10,14.35 L619.10,14.38 L620.10,14.43 L621.10,14.48 L622.10,14.55 L623.10,14.63 L624.10,14.71 L625.10,14.81 L626.10,14.92 L627.10,15.04 L628.10,15.16 L629.10,15.30 L630.10,15.44 L631.10,15.60 L632.10,15.76 L633.10,15.93 L634.10,16.11 L635.10,16.29 L636.10,16.48 L637.10,16.68 L638.10,16.89 L639.10,17.10 L640.10,17.31 L641.10,17.54 L642.10,17.77 L643.10,18.00 L644.10,18.24 L645.10,18.48 L646.10,18.73 L647.10,18.98 L648.10,19.23 L649.10,19.49 L650.10,19.75 L651.10,20.02 L652.10,20.28 L653.10,20.55 L654.10,20.82 L655.10,21.10 L656.10,21.37 L657.10,21.65 L658.10,21.92 L659.10,22.20 L660.10,22.48 L661.10,22.75 L662.10,23.03 L663.10,23.31 L664.10,23.58 L664.70,23.75" fill="none" stroke="#31859C" stroke-width="2.4" stroke-linejoin="round" stroke-linecap="round"/>
<path d="M396.10,225.70 L397.10,223.83 L398.10,221.98 L399.10,220.15 L400.10,218.34 L401.10,216.55 L402.10,214.78 L403.10,213.03 L404.10,211.30 L405.10,209.58 L406.10,207.89 L407.10,206.21 L408.10,204.56 L409.10,202.91 L410.10,201.29 L411.10,199.68 L412.10,198.09 L413.10,196.52 L414.10,194.96 L415.10,193.41 L416.10,191.88 L417.10,190.37 L418.10,188.87 L419.10,187.38 L420.10,185.91 L421.10,184.45 L422.10,183.00 L423.10,181.56 L424.10,180.14 L425.10,178.73 L426.10,177.33 L427.10,175.94 L428.10,174.56 L429.10,173.19 L430.10,171.84 L431.10,170.49 L432.10,169.15 L433.10,167.82 L434.10,166.50 L435.10,165.18 L436.10,163.88 L437.10,162.58 L438.10,161.29 L439.10,160.01 L440.10,158.73 L441.10,157.46 L442.10,156.20 L443.10,154.94 L444.10,153.68 L445.10,152.43 L446.10,151.19 L447.10,149.95 L448.10,148.71 L449.10,147.48 L450.10,146.24 L451.10,145.02 L452.10,143.79 L453.10,142.57 L454.10,141.35 L455.10,140.13 L456.10,138.91 L457.10,137.70 L458.10,136.49 L459.10,135.29 L460.10,134.09 L461.10,132.89 L462.10,131.69 L463.10,130.50 L464.10,129.32 L465.10,128.13 L466.10,126.96 L467.10,125.79 L468.10,124.62 L469.10,123.46 L470.10,122.30 L471.10,121.15 L472.10,120.00 L473.10,118.86 L474.10,117.73 L475.10,116.60 L476.10,115.48 L477.10,114.36 L478.10,113.25 L479.10,112.15 L480.10,111.06 L481.10,109.97 L482.10,108.89 L483.10,107.82 L484.10,106.75 L485.10,105.69 L486.10,104.64 L487.10,103.60 L488.10,102.57 L489.10,101.55 L490.10,100.53 L491.10,99.52 L492.10,98.53 L493.10,97.54 L494.10,96.56 L495.10,95.59 L496.10,94.63 L497.10,93.68 L498.10,92.74 L499.10,91.81 L500.10,90.89 L501.10,89.98 L502.10,89.08 L503.10,88.19 L504.10,87.32 L505.10,86.45 L506.10,85.60 L507.10,84.76 L508.10,83.93 L509.10,83.11 L510.10,82.30 L511.10,81.50 L512.10,80.72 L513.10,79.94 L514.10,79.18 L515.10,78.42 L516.10,77.68 L517.10,76.94 L518.10,76.22 L519.10,75.50 L520.10,74.80 L521.10,74.10 L522.10,73.41 L523.10,72.73 L524.10,72.06 L525.10,71.40 L526.10,70.75 L527.10,70.11 L528.10,69.47 L529.10,68.84 L530.10,68.22 L531.10,67.60 L532.10,67.00 L533.10,66.40 L534.10,65.80 L535.10,65.22 L536.10,64.64 L537.10,64.06 L538.10,63.50 L539.10,62.93 L540.10,62.38 L541.10,61.83 L542.10,61.28 L543.10,60.74 L544.10,60.21 L545.10,59.68 L546.10,59.15 L547.10,58.63 L548.10,58.12 L549.10,57.61 L550.10,57.10 L551.10,56.59 L552.10,56.09 L553.10,55.60 L554.10,55.10 L555.10,54.61 L556.10,54.13 L557.10,53.64 L558.10,53.16 L559.10,52.68 L560.10,52.21 L561.10,51.75 L562.10,51.32 L563.10,50.93 L564.10,50.59 L565.10,50.30 L566.10,50.05 L567.10,49.82 L568.10,49.61 L569.10,49.39 L570.10,49.17 L571.10,48.95 L572.10,48.74 L573.10,48.51 L574.10,48.29 L575.10,48.06 L576.10,47.83 L577.10,47.60 L578.10,47.38 L579.10,47.15 L580.10,46.92 L581.10,46.69 L582.10,46.47 L583.10,46.25 L584.10,46.03 L585.10,45.81 L586.10,45.60 L587.10,45.38 L588.10,45.18 L589.10,44.97 L590.10,44.77 L591.10,44.58 L592.10,44.39 L593.10,44.20 L594.10,44.02 L595.10,43.85 L596.10,43.69 L597.10,43.53 L598.10,43.38 L599.10,43.23 L600.10,43.10 L601.10,42.97 L602.10,42.85 L603.10,42.74 L604.10,42.64 L605.10,42.55 L606.10,42.47 L607.10,42.40 L608.10,42.34 L609.10,42.29 L610.10,42.26 L611.10,42.23 L612.10,42.22 L613.10,42.22 L614.10,42.24 L615.10,42.26 L616.10,42.30 L617.10,42.36 L618.10,42.42 L619.10,42.50 L620.10,42.59 L621.10,42.69 L622.10,42.81 L623.10,42.93 L624.10,43.06 L625.10,43.21 L626.10,43.36 L627.10,43.52 L628.10,43.69 L629.10,43.87 L630.10,44.06 L631.10,44.26 L632.10,44.46 L633.10,44.67 L634.10,44.89 L635.10,45.12 L636.10,45.35 L637.10,45.58 L638.10,45.82 L639.10,46.07 L640.10,46.32 L641.10,46.57 L642.10,46.83 L643.10,47.10 L644.10,47.36 L645.10,47.63 L646.10,47.90 L647.10,48.18 L648.10,48.45 L649.10,48.73 L650.10,49.01 L651.10,49.28 L652.10,49.56 L653.10,49.84 L654.10,50.12 L655.10,50.40 L656.10,50.67 L657.10,50.95 L658.10,51.22 L659.10,51.49 L660.10,51.76 L661.10,52.03 L662.10,52.29 L663.10,52.55 L664.10,52.81 L665.00,53.03" fill="none" stroke="#215968" stroke-width="2.4" stroke-linejoin="round" stroke-linecap="round"/>
<rect x="398.2" y="6" width="21.8" height="114" fill="#fff"/>
<text transform="translate(414.2,116.9) rotate(-90)" class="ti">Axial stress (kPa)</text>
<rect x="464.0" y="199.5" width="103" height="22.4" fill="#fff"/>
<text x="465.7" y="215.6" class="ti">Pentration (mm)</text>
<rect x="567.5" y="158" width="104.5" height="66.3" fill="#fff"/>
<line x1="573.2" y1="168.3" x2="602.2" y2="168.3" stroke="#FF0000" stroke-width="2.4" stroke-linecap="round"/>
<text x="606.2" y="171.9" class="lg">LS+0%XG</text>
<line x1="573.2" y1="184.5" x2="602.2" y2="184.5" stroke="#92CDDC" stroke-width="2.4" stroke-linecap="round"/>
<text x="606.2" y="188.1" class="lg">LS+2%XG</text>
<line x1="573.2" y1="200.70000000000002" x2="602.2" y2="200.70000000000002" stroke="#31859C" stroke-width="2.4" stroke-linecap="round"/>
<text x="606.2" y="204.3" class="lg">LS+3%XG</text>
<line x1="573.2" y1="216.9" x2="602.2" y2="216.9" stroke="#215968" stroke-width="2.4" stroke-linecap="round"/>
<text x="606.2" y="220.5" class="lg">LS+4%XG</text>
<text x="445.8" y="25.5" class="hd">Unsoaked</text>
<rect x="446.1" y="28.0" width="76.60000000000002" height="1.4" fill="#000"/>
<text x="516.6" y="266.6" class="ti">(b)</text>
</svg>
</body></html>
